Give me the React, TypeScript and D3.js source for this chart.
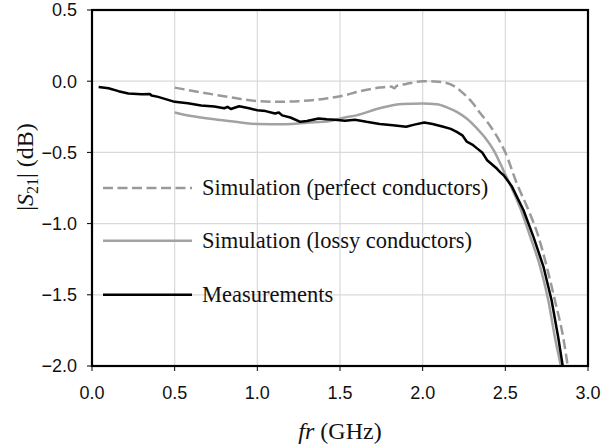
import React from "react";
import * as d3 from "d3";

const xTicks = [0, 0.5, 1.0, 1.5, 2.0, 2.5, 3.0];
const yTicks = [0.5, 0.0, -0.5, -1.0, -1.5, -2.0];

const perfectX = [0.5, 0.62, 0.76, 0.9, 1.0, 1.12, 1.25, 1.4, 1.53, 1.64, 1.74, 1.81, 1.83, 1.84, 1.9, 2.0, 2.07, 2.125, 2.19, 2.246, 2.3, 2.35, 2.4, 2.45, 2.5, 2.57, 2.64, 2.7, 2.75, 2.8, 2.85, 2.88];
const perfectY = [-0.045, -0.07, -0.098, -0.125, -0.14, -0.145, -0.14, -0.125, -0.098, -0.065, -0.045, -0.038, -0.05, -0.035, -0.02, 0.0, -0.002, -0.008, -0.035, -0.085, -0.15, -0.227, -0.3, -0.39, -0.5, -0.72, -0.906, -1.09, -1.3, -1.54, -1.8, -2.02];

const lossyX = [0.5, 0.6, 0.76, 0.9, 1.0, 1.17, 1.3, 1.44, 1.53, 1.6, 1.74, 1.88, 2.0, 2.085, 2.15, 2.206, 2.27, 2.327, 2.38, 2.43, 2.49, 2.55, 2.6, 2.65, 2.71, 2.76, 2.8, 2.84];
const lossyY = [-0.22, -0.245, -0.27, -0.29, -0.3, -0.302, -0.292, -0.28, -0.255, -0.24, -0.19, -0.16, -0.157, -0.162, -0.185, -0.215, -0.265, -0.33, -0.4, -0.485, -0.63, -0.78, -0.92, -1.09, -1.3, -1.54, -1.8, -2.02];

const measX = [0.04, 0.1, 0.16, 0.22, 0.3, 0.35, 0.36, 0.4, 0.5, 0.58, 0.66, 0.74, 0.8, 0.82, 0.84, 0.89, 0.95, 1.0, 1.05, 1.107, 1.13, 1.15, 1.2, 1.26, 1.3, 1.37, 1.42, 1.47, 1.53, 1.59, 1.66, 1.74, 1.82, 1.9, 1.95, 2.01, 2.06, 2.125, 2.17, 2.206, 2.24, 2.267, 2.3, 2.327, 2.36, 2.39, 2.42, 2.45, 2.47, 2.49, 2.54, 2.61, 2.67, 2.73, 2.78, 2.82, 2.85];
const measY = [-0.04, -0.05, -0.07, -0.087, -0.092, -0.09, -0.1, -0.11, -0.145, -0.155, -0.17, -0.178, -0.19, -0.18, -0.195, -0.176, -0.19, -0.204, -0.21, -0.227, -0.22, -0.24, -0.255, -0.285, -0.28, -0.262, -0.268, -0.27, -0.278, -0.27, -0.285, -0.3, -0.31, -0.32, -0.305, -0.29, -0.3, -0.32, -0.335, -0.356, -0.38, -0.425, -0.445, -0.47, -0.5, -0.555, -0.585, -0.615, -0.64, -0.66, -0.74, -0.906, -1.093, -1.3, -1.54, -1.8, -2.02];

const legendLabels = [
  "Simulation (perfect conductors)",
  "Simulation (lossy conductors)",
  "Measurements",
];

const W = 615;
const H = 446;
const M = { left: 92, right: 588, top: 10, bottom: 366 };

export default function App() {
  const x = d3.scaleLinear().domain([0, 3]).range([M.left, M.right]);
  const y = d3.scaleLinear().domain([-2, 0.5]).range([M.bottom, M.top]);

  const mk = (xs: number[], ys: number[], curve: d3.CurveFactory) =>
    d3
      .line<number>()
      .x((_, i) => x(xs[i]))
      .y((_, i) => y(ys[i]))
      .curve(curve)(xs) || "";

  const perfectPath = mk(perfectX, perfectY, d3.curveMonotoneX);
  const lossyPath = mk(lossyX, lossyY, d3.curveMonotoneX);
  const measPath = mk(measX, measY, d3.curveLinear);

  const series = [
    { color: "#9a9a9a", dash: "10 4.5", width: 2.5 },
    { color: "#a2a2a2", dash: "none", width: 2.5 },
    { color: "#000000", dash: "none", width: 2.5 },
  ];
  const legendY = [y(-0.75), y(-1.12), y(-1.5)];

  const sans = "'Liberation Sans', Arial, sans-serif";
  const serif = "'Liberation Serif', 'Times New Roman', serif";

  return (
    <svg width={W} height={H} style={{ display: "block", position: "absolute", left: 0, top: 0, background: "#fff" }}>
      <defs>
        <clipPath id="plotclip">
          <rect x={M.left} y={M.top} width={M.right - M.left} height={M.bottom - M.top} />
        </clipPath>
      </defs>
      <rect x={0} y={0} width={W} height={H} fill="#fff" />
      {xTicks.slice(1, -1).map((t) => (
        <line key={"gx" + t} x1={x(t)} x2={x(t)} y1={M.top} y2={M.bottom} stroke="#d9d9d9" strokeWidth={1.2} />
      ))}
      {yTicks.slice(1, -1).map((t) => (
        <line key={"gy" + t} x1={M.left} x2={M.right} y1={y(t)} y2={y(t)} stroke="#d9d9d9" strokeWidth={1.2} />
      ))}
      <g clipPath="url(#plotclip)" fill="none" strokeLinejoin="round" strokeLinecap="butt">
        <path d={lossyPath} stroke={series[1].color} strokeWidth={series[1].width} />
        <path d={perfectPath} stroke={series[0].color} strokeWidth={series[0].width} strokeDasharray={series[0].dash} />
        <path d={measPath} stroke={series[2].color} strokeWidth={series[2].width} />
      </g>
      <rect x={M.left} y={M.top} width={M.right - M.left} height={M.bottom - M.top} fill="none" stroke="#000" strokeWidth={2.2} />
      {yTicks.map((t) => (
        <g key={"yt" + t}>
          <line x1={M.left - 5} x2={M.left} y1={y(t)} y2={y(t)} stroke="#000" strokeWidth={1} />
          <text x={M.left - 15} y={y(t)} dy="0.35em" textAnchor="end" fontFamily={sans} fontSize={18} fill="#111">
            {d3.format(".1f")(t)}
          </text>
        </g>
      ))}
      {xTicks.map((t) => (
        <g key={"xt" + t}>
          <line x1={x(t)} x2={x(t)} y1={M.bottom} y2={M.bottom + 5} stroke="#000" strokeWidth={1} />
          <text x={x(t)} y={399} textAnchor="middle" fontFamily={sans} fontSize={18} fill="#111">
            {d3.format(".1f")(t)}
          </text>
        </g>
      ))}
      <text x={(M.left + M.right) / 2} y={439} textAnchor="middle" fontFamily={serif} fontSize={24} fill="#111">
        <tspan fontStyle="italic">fr</tspan> (GHz)
      </text>
      <text transform={`translate(33,167) rotate(-90)`} textAnchor="middle" fontFamily={serif} fontSize={24} fill="#111">
        |<tspan fontStyle="italic">S</tspan>
        <tspan fontSize={16} dy={5}>21</tspan>
        <tspan dy={-5}>| (dB)</tspan>
      </text>
      {legendLabels.map((lab, i) => (
        <g key={lab}>
          <line x1={103} x2={192} y1={legendY[i]} y2={legendY[i]} stroke={series[i].color} strokeWidth={series[i].width} strokeDasharray={series[i].dash} />
          <text x={202} y={legendY[i]} dy="0.33em" fontFamily={serif} fontSize={22.5} fill="#111">
            {lab}
          </text>
        </g>
      ))}
    </svg>
  );
}
